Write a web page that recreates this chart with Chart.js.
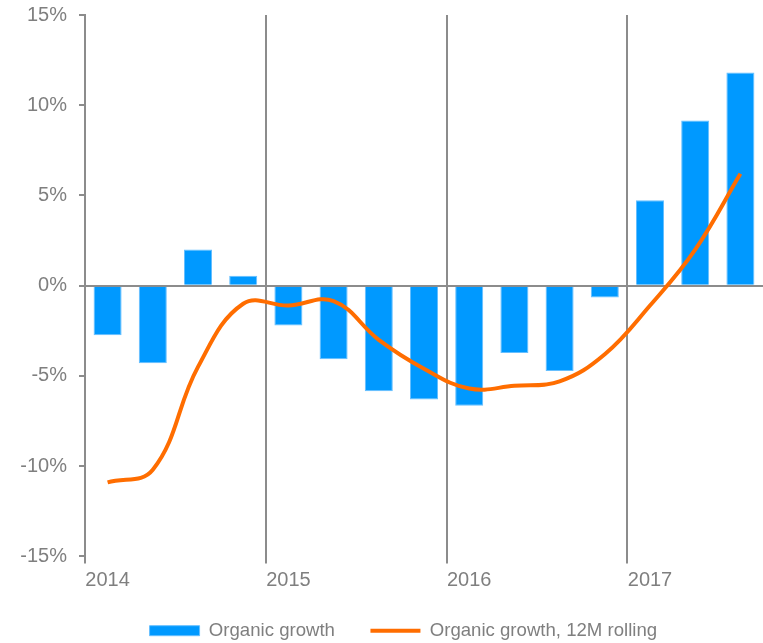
<!DOCTYPE html>
<html>
<head>
<meta charset="utf-8">
<script src="https://cdn.jsdelivr.net/npm/chart.js@4"></script>
<style>
  html, body { margin: 0; padding: 0; background: #fff; }
  #wrap { width: 763px; height: 643px; }
</style>
</head>
<body>
<div id="wrap"><canvas id="grafico"></canvas></div>
<script>
// quarters 2014 Q1 .. 2017 Q3
const trimestres = ["2014 Q1", "2014 Q2", "2014 Q3", "2014 Q4",
                    "2015 Q1", "2015 Q2", "2015 Q3", "2015 Q4",
                    "2016 Q1", "2016 Q2", "2016 Q3", "2016 Q4",
                    "2017 Q1", "2017 Q2", "2017 Q3"];
const etiquetasAnio = ["2014", "", "", "", "2015", "", "", "", "2016", "", "", "", "2017", "", ""];
const crecimiento = [-2.75, -4.3, 2.0, 0.55, -2.2, -4.07, -5.85, -6.3, -6.65, -3.73, -4.72, -0.65, 4.73, 9.16, 11.82];
const rolling12m = [-10.9, -10.2, -4.5, -1.0, -1.1, -0.85, -3.0, -4.6, -5.7, -5.55, -5.3, -3.8, -1.1, 2.0, 6.2];
const ticksY = [-15, -10, -5, 0, 5, 10, 15];

const gris = "#8c8c8c";
const textoGris = "#7f7f7f";
const fuente = "'Liberation Sans', Arial, sans-serif";

const ctx = document.getElementById("grafico").getContext("2d");
const chart = new Chart(ctx, {
  data: {
    labels: trimestres,
    datasets: [
      {
        type: "line",
        label: "Organic growth, 12M rolling",
        data: rolling12m,
        borderColor: "#ff6d00",
        backgroundColor: "#ff6d00",
        borderWidth: 4,
        pointRadius: 0,
        pointStyle: "line",
        tension: 0.4,
        order: 0
      },
      {
        type: "bar",
        label: "Organic growth",
        data: crecimiento,
        backgroundColor: "#0099ff",
        borderColor: "#66bfff",
        borderWidth: 1,
        pointStyle: "rect",
        categoryPercentage: 1,
        barPercentage: 0.62,
        order: 1
      }
    ]
  },
  options: {
    responsive: true,
    maintainAspectRatio: false,
    animation: false,
    layout: { padding: { top: 15, right: 0, left: 0, bottom: -7 } },
    plugins: {
      tooltip: { enabled: false },
      legend: {
        position: "bottom",
        fullSize: false,
        reverse: true,
        labels: {
          usePointStyle: true,
          pointStyleWidth: 50,
          boxHeight: 10,
          padding: 20,
          color: textoGris,
          font: { family: fuente, size: 18.6 },
          // extra spaces only widen the gaps like in the original legend
          generateLabels: c => {
            const items = Chart.defaults.plugins.legend.labels.generateLabels(c);
            items.forEach(it => {
              it.text = it.datasetIndex === 1 ? it.text + "   " : it.text + "        ";
            });
            return items;
          }
        }
      }
    },
    scales: {
      x: {
        border: { display: false },
        afterFit: axis => { axis.height = 45; },
        grid: {
          offset: true,
          lineWidth: 2,
          tickLength: 7,
          color: c => (c.index % 4 === 0 && c.index > 0 && c.index < 15) ? gris : "rgba(0,0,0,0)",
          tickColor: c => (c.index % 4 === 0 && c.index < 15) ? gris : "rgba(0,0,0,0)"
        },
        ticks: {
          autoSkip: false,
          maxRotation: 0,
          padding: 5,
          color: textoGris,
          font: { family: fuente, size: 20 },
          callback: (v, i) => etiquetasAnio[i]
        }
      },
      y: {
        min: -15,
        max: 15,
        afterBuildTicks: axis => { axis.ticks = ticksY.map(v => ({ value: v })); },
        afterFit: axis => {
          axis.width = 85;
          axis.paddingTop = 0;
          axis.paddingBottom = 0;
        },
        border: { display: true, color: gris, width: 2 },
        grid: {
          lineWidth: 2,
          tickLength: 6,
          color: c => c.tick && c.tick.value === 0 ? gris : "rgba(0,0,0,0)",
          tickColor: gris
        },
        ticks: {
          padding: 12,
          color: textoGris,
          font: { family: fuente, size: 20 },
          callback: v => v + "%"
        }
      }
    }
  }
});
</script>
</body>
</html>
